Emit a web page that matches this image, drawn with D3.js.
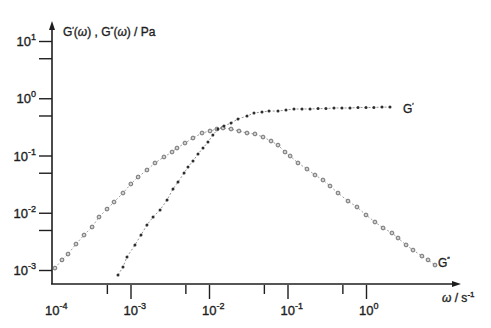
<!DOCTYPE html>
<html>
<head>
	<meta charset="utf-8">
	<title>G'(ω), G''(ω)</title>
	<script src="https://cdn.jsdelivr.net/npm/d3@7"></script>
	<style>
		html,
		body {
			margin: 0;
			padding: 0;
			background: #fff;
		}

		svg text {
			font-family: "Liberation Sans", Arial, sans-serif;
			fill: #1e1e1e;
			stroke: #1e1e1e;
			stroke-width: 0.35px;
		}
	</style>
</head>
<body>
	<svg id="chart" width="491" height="328"></svg>
	<script>
		// storage modulus G'
		var storageOmega = [6.93e-4, 8.02e-4, 9.02e-4, 1.14e-3, 1.36e-3, 1.62e-3, 1.94e-3, 2.38e-3, 2.92e-3, 3.48e-3,
			4.03e-3, 4.81e-3, 5.40e-3, 6.25e-3, 7.24e-3, 8.39e-3, 9.70e-3, 1.12e-2, 1.30e-2, 1.55e-2,
			1.91e-2, 2.34e-2, 3.05e-2, 3.74e-2, 4.73e-2, 5.81e-2, 7.57e-2, 9.57e-2, 0.121, 0.153,
			0.194, 0.245, 0.309, 0.391, 0.494, 0.625, 0.791, 1.00, 1.26, 1.60, 2.02];
		var storageG = [8.18e-4, 1.13e-3, 1.69e-3, 2.74e-3, 4.08e-3, 6.11e-3, 8.43e-3, 1.12e-2, 1.67e-2, 2.60e-2,
			3.44e-2, 4.94e-2, 6.30e-2, 8.02e-2, 0.106, 0.135, 0.172, 0.228, 0.290, 0.327,
			0.370, 0.435, 0.490, 0.552, 0.575, 0.598, 0.598, 0.624, 0.649, 0.649,
			0.649, 0.66, 0.66, 0.676, 0.676, 0.676, 0.69, 0.69, 0.69, 0.70, 0.70];

		// loss modulus G''
		var lossOmega = [1.09e-4, 1.34e-4, 1.60e-4, 2.02e-4, 2.56e-4, 3.24e-4, 3.97e-4, 5.02e-4, 6.17e-4, 8.02e-4,
			1.01e-3, 1.25e-3, 1.62e-3, 2.05e-3, 2.67e-3, 3.38e-3, 3.91e-3, 4.94e-3, 6.25e-3, 8.15e-3, 1.03e-2,
			1.26e-2, 1.51e-2, 1.91e-2, 2.41e-2, 3.05e-2, 3.85e-2, 4.88e-2, 6.17e-2, 7.57e-2, 9.29e-2,
			0.108, 0.136, 0.177, 0.224, 0.283, 0.348, 0.440, 0.590, 0.767, 1.00,
			1.30, 1.65, 2.14, 2.56, 3.24, 3.97, 5.16, 6.17, 7.57];
		var lossG = [1.08e-3, 1.50e-3, 1.90e-3, 2.84e-3, 4.08e-3, 5.64e-3, 8.43e-3, 1.16e-2, 1.54e-2, 2.21e-2,
			3.18e-2, 4.21e-2, 5.58e-2, 7.40e-2, 9.42e-2, 0.115, 0.135, 0.165, 0.202, 0.247, 0.268,
			0.290, 0.302, 0.290, 0.268, 0.247, 0.238, 0.210, 0.179, 0.152, 0.115,
			0.098, 0.074, 0.058, 0.0456, 0.0373, 0.0293, 0.0221, 0.0160, 0.0126, 9.14e-3,
			6.89e-3, 5.42e-3, 4.43e-3, 3.62e-3, 2.74e-3, 2.23e-3, 1.75e-3, 1.50e-3, 1.22e-3];

		var xMajor = [1e-4, 1e-3, 1e-2, 1e-1, 1e0];
		var xMinor = [5e-4, 5e-3, 5e-2, 5e-1];
		var yMajor = [1e-3, 1e-2, 1e-1, 1e0, 1e1];
		var yMinor = [5e-3, 5e-2, 5e-1, 5];

		var svg = d3.select("#chart");
		var x = d3.scaleLog().domain([1e-4, 1e0]).range([52, 366]);
		var y = d3.scaleLog().domain([1e-3, 1e1]).range([270, 41]);
		var x0 = 52, y0 = 284;
		var ink = "#1e1e1e";

		// axis lines with arrows
		svg.append("line").attr("x1", x0).attr("x2", x0).attr("y1", y0).attr("y2", 28)
			.attr("stroke", ink).attr("stroke-width", 1.6);
		svg.append("path").attr("d", "M" + x0 + ",21L" + (x0 - 3) + ",30L" + (x0 + 3) + ",30Z").attr("fill", ink);
		svg.append("line").attr("x1", x0 - 1).attr("x2", 454).attr("y1", y0).attr("y2", y0)
			.attr("stroke", ink).attr("stroke-width", 1.6);
		svg.append("path").attr("d", "M461," + y0 + "L452," + (y0 - 3) + "L452," + (y0 + 3) + "Z").attr("fill", ink);

		function styleAxis(g) {
			g.select(".domain").remove();
			g.selectAll(".tick line").attr("stroke", ink).attr("stroke-width", 1.4);
		}

		svg.append("g").attr("transform", "translate(0," + (y0 + 1) + ")")
			.call(d3.axisBottom(x).tickValues(xMajor.slice(1)).tickSize(14).tickFormat(""))
			.call(styleAxis);
		svg.append("g").attr("transform", "translate(0," + (y0 + 1) + ")")
			.call(d3.axisBottom(x).tickValues(xMinor).tickSize(9).tickFormat(""))
			.call(styleAxis);
		svg.append("g").attr("transform", "translate(" + x0 + ",0)")
			.call(d3.axisLeft(y).tickValues(yMajor.concat(yMinor)).tickSize(13).tickFormat(""))
			.call(styleAxis);

		// tick labels as 10 with superscript exponent
		function pow(sel) {
			sel.append("tspan").text("10");
			sel.append("tspan").attr("dy", -6).attr("font-size", 9)
				.text(function(d) { return Math.round(Math.log10(d)).toString(); });
		}
		svg.append("g").selectAll("text").data(xMajor).join("text")
			.attr("x", function(d) { return x(d) - 7; })
			.attr("y", 315)
			.attr("font-size", 13)
			.call(pow);
		svg.append("g").selectAll("text").data(yMajor).join("text")
			.attr("x", 36)
			.attr("y", function(d) { return y(d) + 5; })
			.attr("text-anchor", "end")
			.attr("font-size", 13)
			.call(pow);

		// axis titles
		var yt = svg.append("text").attr("x", 63).attr("y", 36).attr("font-size", 12);
		yt.append("tspan").text("G");
		yt.append("tspan").attr("dy", -4).attr("font-size", 8).text("′");
		yt.append("tspan").attr("dy", 4).text("(");
		yt.append("tspan").attr("font-style", "italic").text("ω");
		yt.append("tspan").text(") , G");
		yt.append("tspan").attr("dy", -4).attr("font-size", 8).text("″");
		yt.append("tspan").attr("dy", 4).text("(");
		yt.append("tspan").attr("font-style", "italic").text("ω");
		yt.append("tspan").text(") / Pa");

		var xt = svg.append("text").attr("x", 442).attr("y", 302).attr("font-size", 12);
		xt.append("tspan").attr("font-style", "italic").text("ω");
		xt.append("tspan").text(" / s");
		xt.append("tspan").attr("dy", -5).attr("font-size", 8).text("-1");

		// connecting dotted lines
		var line = d3.line().x(function(d) { return x(d[0]); }).y(function(d) { return y(d[1]); });
		var storage = d3.zip(storageOmega, storageG);
		var loss = d3.zip(lossOmega, lossG);

		svg.append("path").datum(storage).attr("d", line)
			.attr("fill", "none").attr("stroke", "#777").attr("stroke-width", 0.8).attr("stroke-dasharray", "2,2");
		svg.append("path").datum(loss).attr("d", line)
			.attr("fill", "none").attr("stroke", "#888").attr("stroke-width", 0.8).attr("stroke-dasharray", "2,2");

		svg.append("g").selectAll("circle").data(loss).join("circle")
			.attr("cx", function(d) { return x(d[0]); })
			.attr("cy", function(d) { return y(d[1]); })
			.attr("r", 1.9)
			.attr("fill", "#cfcfcf")
			.attr("stroke", "#666")
			.attr("stroke-width", 0.9);

		svg.append("g").selectAll("circle").data(storage).join("circle")
			.attr("cx", function(d) { return x(d[0]); })
			.attr("cy", function(d) { return y(d[1]); })
			.attr("r", 1.5)
			.attr("fill", "#2e2e2e");

		// curve labels
		var l1 = svg.append("text").attr("x", 403).attr("y", 113).attr("font-size", 12);
		l1.append("tspan").text("G");
		l1.append("tspan").attr("dy", -5).attr("font-size", 7).text("′");
		var l2 = svg.append("text").attr("x", 438).attr("y", 267).attr("font-size", 12);
		l2.append("tspan").text("G");
		l2.append("tspan").attr("dy", -5).attr("font-size", 7).text("″");
	</script>
</body>
</html>
